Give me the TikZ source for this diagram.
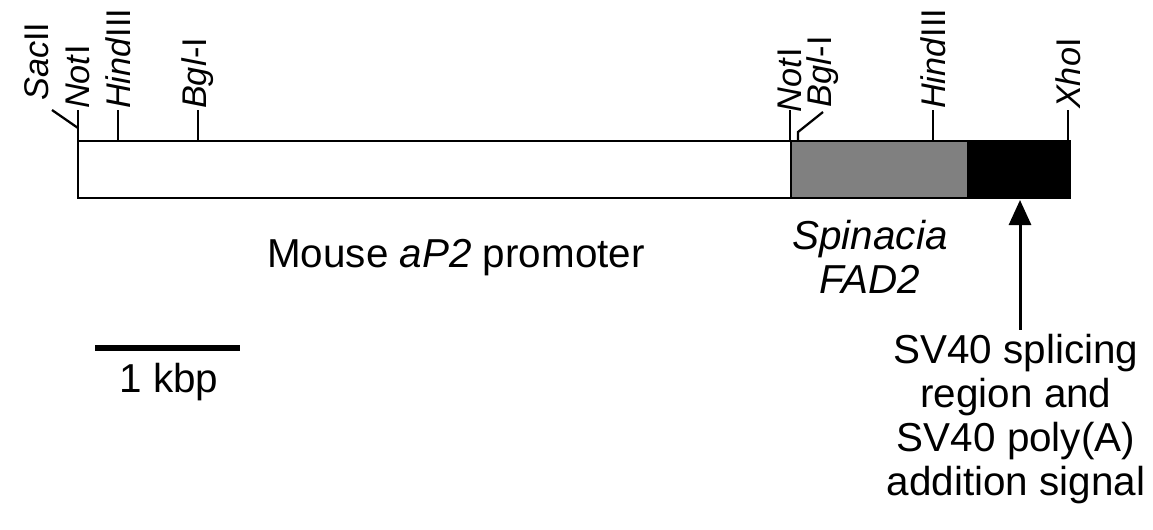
\documentclass[tikz,border=0pt]{standalone}
\usepackage{fontspec}
\setmainfont{Liberation Sans}
\usetikzlibrary{arrows.meta}

\begin{document}
\begin{tikzpicture}[x=0.02cm,y=-0.02cm]
  \tikzset{site/.style={rotate=90,anchor=west,inner sep=0pt,font=\fontsize{19.5}{19.5}\selectfont},
           txt/.style={font=\fontsize{23}{25.2}\selectfont,align=center,inner sep=2pt},
           cut/.style={line width=1.3pt}}
  \useasboundingbox (0,0) rectangle (1153,529);

  % ---- construct: promoter, FAD2, SV40 ----------------
  \draw[cut,fill=white] (78,141) rectangle (791,198);
  \draw[cut,fill=gray] (791,141) rectangle (968,198);
  \draw[cut,fill=black] (968,141) rectangle (1070,198);

  % ---- restriction sites ------------------------------
  \coordinate (notA) at (78,141);
  \coordinate (hindA) at (118,141);
  \coordinate (bglA) at (198,141);
  \coordinate (notB) at (790,141);
  \coordinate (bglB) at (798,141);
  \coordinate (hindB) at (933,141);
  \coordinate (xho) at (1068,141);

  \draw[cut] (notA) -- ++(0,-31) node[site] {\textit{Not}I};
  \draw[cut] (notA) ++(0,-13) -- ++(-26,-18);
  \node[site] (sac) at (37,101) {\textit{Sac}II};
  \draw[cut] (hindA) -- ++(0,-31) node[site] {\textit{Hind}III};
  \draw[cut] (bglA) -- ++(0,-31) node[site] {\textit{Bgl}-I};
  \draw[cut] (notB) -- ++(0,-31) node[site,xshift=-2] {\textit{Not}I};
  \draw[cut] (bglB) -- ++(0,-9) -- ++(25,-20) node[site,xshift=2] {\textit{Bgl}-I};
  \draw[cut] (hindB) -- ++(0,-31) node[site] {\textit{Hind}III};
  \draw[cut] (xho) -- ++(0,-31) node[site] {\textit{Xho}I};

  % ---- labels below the bar ---------------------------
  \node[txt] (prom) at (456,258) {Mouse \textit{aP2} promoter};
  \node[txt] (fad) at (870,257) {\textit{Spinacia}\\\textit{FAD2}};
  \node[txt] (sv40) at (1016,419) {SV40 splicing\\region and\\SV40 poly(A)\\addition signal};
  \coordinate (polyA) at (1020,200);
  \draw[line width=1.7pt,-{Triangle[length=0.5cm,width=0.44cm]}] (sv40.north -| polyA) -- (polyA);

  % ---- scale bar --------------------------------------
  \node[txt] (kbp) at (169,382) {1 kbp};
  \coordinate (barL) at (95,348);
  \coordinate (barR) at (240,348);
  \draw[line width=3.5pt] (barL) -- (barR);
\end{tikzpicture}
\end{document}
